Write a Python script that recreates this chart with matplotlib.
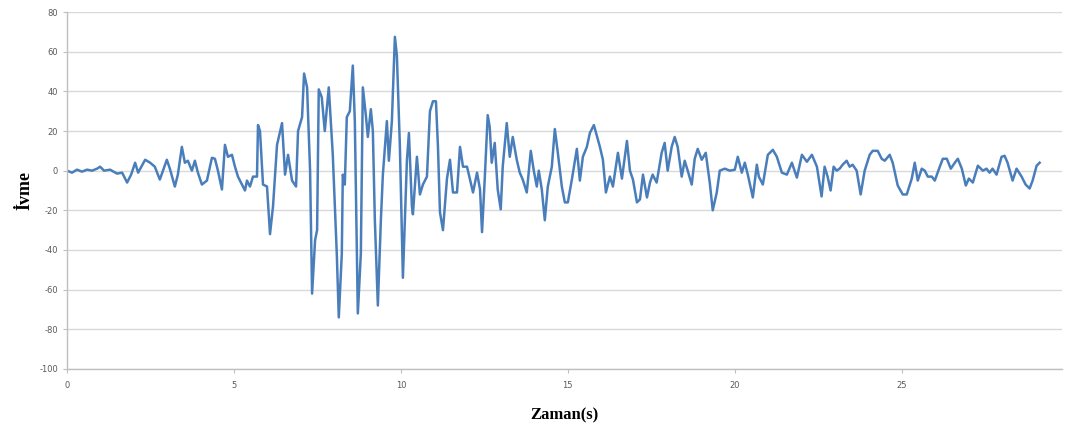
import matplotlib
matplotlib.use('Agg')
import matplotlib.pyplot as plt

plt.rcParams['axes.unicode_minus'] = False

# zaman (s) ve ivme değerleri
zaman = [0.00, 0.15, 0.30, 0.45, 0.60, 0.75, 0.90, 0.99, 1.11, 1.29,
         1.50, 1.65, 1.80, 1.92, 2.04, 2.13, 2.34, 2.49, 2.63, 2.78,
         2.99, 3.08, 3.23, 3.32, 3.44, 3.53, 3.62, 3.74, 3.83, 3.92,
         4.04, 4.19, 4.34, 4.43, 4.52, 4.64, 4.73, 4.82, 4.94, 5.03,
         5.12, 5.24, 5.33, 5.39, 5.48, 5.57, 5.69, 5.72, 5.78, 5.87,
         5.99, 6.08, 6.17, 6.29, 6.44, 6.53, 6.62, 6.74, 6.86, 6.92,
         7.04, 7.10, 7.19, 7.28, 7.34, 7.43, 7.49, 7.54, 7.63, 7.72,
         7.84, 7.96, 8.08, 8.14, 8.23, 8.26, 8.32, 8.38, 8.47, 8.56,
         8.62, 8.71, 8.80, 8.86, 8.95, 9.01, 9.10, 9.16, 9.22, 9.31,
         9.40, 9.46, 9.58, 9.64, 9.73, 9.82, 9.88, 9.97, 10.06, 10.18,
         10.24, 10.33, 10.36, 10.48, 10.57, 10.66, 10.78, 10.87, 10.96, 11.05,
         11.11, 11.17, 11.26, 11.38, 11.47, 11.56, 11.68, 11.77, 11.86, 11.98,
         12.07, 12.16, 12.28, 12.37, 12.43, 12.51, 12.60, 12.66, 12.72, 12.81,
         12.90, 12.99, 13.05, 13.17, 13.26, 13.35, 13.47, 13.56, 13.65, 13.77,
         13.89, 13.98, 14.07, 14.13, 14.22, 14.31, 14.40, 14.52, 14.61, 14.70,
         14.82, 14.91, 15.00, 15.12, 15.27, 15.36, 15.45, 15.57, 15.66, 15.78,
         15.96, 16.05, 16.14, 16.26, 16.35, 16.50, 16.62, 16.77, 16.86, 16.95,
         17.07, 17.16, 17.25, 17.37, 17.46, 17.54, 17.66, 17.81, 17.90, 17.99,
         18.11, 18.20, 18.29, 18.41, 18.50, 18.59, 18.71, 18.80, 18.89, 19.01,
         19.13, 19.25, 19.34, 19.46, 19.55, 19.70, 19.85, 20.00, 20.09, 20.21,
         20.30, 20.39, 20.54, 20.66, 20.72, 20.84, 20.99, 21.14, 21.26, 21.41,
         21.56, 21.71, 21.86, 22.01, 22.16, 22.31, 22.46, 22.60, 22.69, 22.78,
         22.87, 22.96, 23.05, 23.14, 23.23, 23.35, 23.44, 23.53, 23.65, 23.77,
         23.89, 24.04, 24.13, 24.28, 24.40, 24.49, 24.64, 24.73, 24.88, 25.03,
         25.15, 25.30, 25.39, 25.48, 25.60, 25.69, 25.78, 25.90, 25.99, 26.14,
         26.23, 26.35, 26.47, 26.59, 26.68, 26.80, 26.92, 27.01, 27.13, 27.28,
         27.43, 27.54, 27.63, 27.72, 27.84, 27.99, 28.08, 28.17, 28.32, 28.44,
         28.59, 28.71, 28.83, 28.92, 29.04, 29.13]

ivme = [0, -1, 0.5, -0.5, 0.5, 0, 1, 2, 0, 0.5,
        -1.5, -1, -6, -2, 4, -1, 5.5, 4, 2, -4.5,
        5.5, 1, -8, -2, 12, 4, 5, 0, 5, -1,
        -7, -5, 6.5, 6, 0, -9.5, 13, 7, 8, 2,
        -3, -7, -10, -5, -8, -3, -3, 23, 20, -7,
        -8, -32, -18, 13, 24, -2, 8, -5, -8, 20,
        27, 49, 42, 0, -62, -35, -30, 41, 37, 20,
        42, 8, -42, -74, -42, -2, -7, 27, 30, 53,
        25, -72, -42, 42, 28, 17, 31, 20, -25, -68,
        -25, -2, 25, 5, 25, 67.5, 58, 12, -54, 5,
        19, -18, -22, 7, -12, -7, -3, 30, 35, 35,
        12, -21, -30, -4, 5.5, -11, -11, 12, 2, 2,
        -4.5, -11, -1, -9.5, -31, -4.5, 28, 22, 4, 14,
        -9.5, -19.5, 2, 24, 7, 17, 5.5, -1, -4.5, -11,
        10, 0, -8, 0, -9.5, -25, -8, 2, 21, 9,
        -8, -16, -16, -4.5, 11, -5, 7, 12, 19, 23,
        12, 5.5, -11, -3, -8, 9, -4, 15, 0, -4.5,
        -16, -14.5, -2, -13.5, -6, -2, -6, 9, 14, 0,
        12, 17, 12, -3, 5, 0, -7, 6, 11, 5.5,
        9, -6, -20, -11, 0, 1, 0, 0.5, 7, -1,
        4, -2, -13.5, 3, -3, -7, 8, 10.5, 7, -1,
        -2, 4, -3.5, 8, 4.5, 8, 2, -13, 2, -3,
        -10, 2, 0, 1, 3, 5, 2, 3, 0, -12,
        0, 8, 10, 10, 6, 5, 8, 4, -7.5, -12,
        -12, -4, 4, -5, 1, 0, -3, -3, -5, 2,
        6, 6, 1, 4, 6, 1, -7.5, -4, -6, 2.5,
        0, 1, -1, 1, -2, 7, 7.5, 4, -5, 1,
        -3, -7, -9, -5, 2.5, 4]

y_ticks = [-100, -80, -60, -40, -20, 0, 20, 40, 60, 80]
x_ticks = [0, 5, 10, 15, 20, 25]

fig = plt.figure(figsize=(10.67, 4.30), dpi=100)
ax = fig.add_axes([0.0628, 0.142, 0.9322, 0.830])

ax.plot(zaman, ivme, color='#4a7ebb', linewidth=1.8)

ax.set_xlim(0, 29.79)
ax.set_ylim(-100, 80)
ax.set_yticks(y_ticks)
ax.set_xticks(x_ticks)
ax.yaxis.grid(True, color='#d9d9d9', linewidth=1.0)
ax.set_axisbelow(True)

for side in ['top', 'right']:
    ax.spines[side].set_visible(False)
for side in ['left', 'bottom']:
    ax.spines[side].set_color('#bfbfbf')
    ax.spines[side].set_linewidth(1.0)

ax.tick_params(axis='both', labelsize=6, colors='#bfbfbf', labelcolor='#595959',
               length=3, width=0.8)
ax.tick_params(axis='x', pad=6)

serif = ['Liberation Serif', 'DejaVu Serif']
ax.set_ylabel('İvme', fontsize=13, fontweight='bold', family=serif, labelpad=4)
ax.set_xlabel('Zaman(s)', fontsize=12, fontweight='bold', family=serif, labelpad=12)

fig.savefig('out.png', dpi=100)
plt.close(fig)
